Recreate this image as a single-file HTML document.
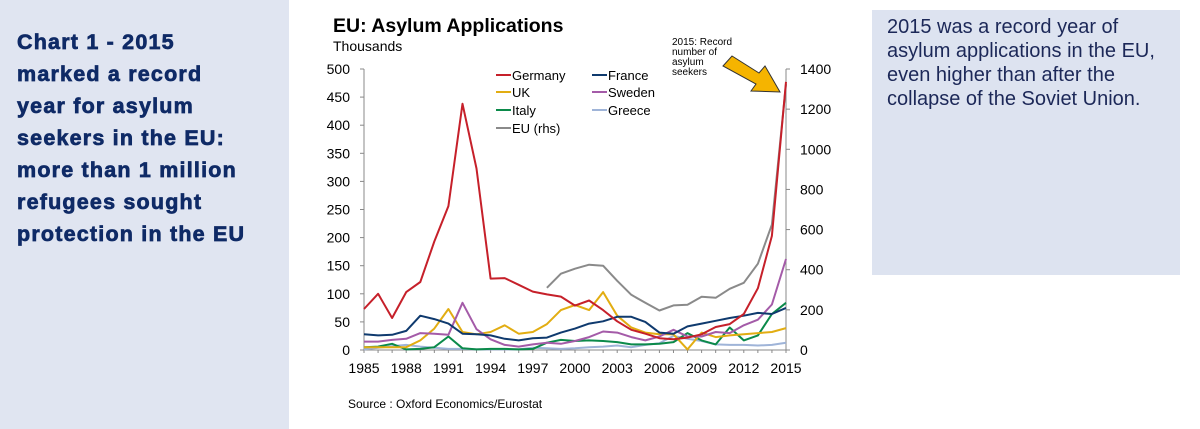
<!DOCTYPE html>
<html><head><meta charset="utf-8"><style>
body{margin:0;width:1200px;height:429px;background:#fff;position:relative;overflow:hidden;font-family:"Liberation Sans",Arial,sans-serif}
#left{position:absolute;left:0;top:0;width:289px;height:429px;background:#e0e5f1}
#left div{position:absolute;left:17px;top:26px;font-weight:bold;font-size:21.5px;line-height:32px;color:#0f2a66;letter-spacing:1.2px;-webkit-text-stroke:0.7px #0f2a66;white-space:nowrap}
#box{position:absolute;left:872px;top:10px;width:308px;height:265px;background:#dde3f0}
#box div{position:absolute;left:15px;top:5px;font-size:20px;line-height:24px;color:#1c2858;white-space:nowrap}
</style></head><body>
<div id="left"><div>Chart 1 - 2015<br>marked a record<br>year for asylum<br>seekers in the EU:<br>more than 1 million<br>refugees sought<br>protection in the EU</div></div>
<div id="box"><div>2015 was a record year of<br>asylum applications in the EU,<br>even higher than after the<br>collapse of the Soviet Union.</div></div>
<svg id="chart" width="1200" height="429" style="position:absolute;left:0;top:0"></svg>
<script>
const years=[];for(let y=1985;y<=2015;y++)years.push(y);
const germany=[73,100,57,103,121,193,256,438,323,127,128,116,104,99,95,79,88,71,51,36,29,21,19,22,28,41,46,64,110,203,477];
const france=[28,26,27,34,61,55,47,29,28,26,20,17,21,22,31,38,47,51,59,59,50,31,29,42,47,52,57,61,66,64,75];
const uk=[5,5,5,5,17,38,73,32,28,32,44,29,32,46,71,80,71,103,61,40,31,28,28,1,31,23,26,28,30,32,39];
const sweden=[15,15,18,20,30,29,27,84,37,19,9,6,10,13,11,16,23,33,31,23,17,24,36,24,24,32,30,44,54,81,162];
const italy=[5,6,11,1,2,5,24,3,1,2,2,1,2,13,18,16,17,16,14,10,10,11,14,30,17,10,40,17,26,64,84];
const greece=[1,4,7,9,6,4,2,2,1,1,1,1,4,3,2,3,5,6,8,5,9,12,25,20,16,10,9,9,8,9,13];
const euYears=[1998,1999,2000,2001,2002,2003,2004,2005,2006,2007,2008,2009,2010,2011,2012,2013,2014,2015];
const eu=[310,380,405,425,420,345,275,235,197,222,225,265,260,305,335,430,625,1325];
const leftTicks=[0,50,100,150,200,250,300,350,400,450,500];
const rightTicks=[0,200,400,600,800,1000,1200,1400];
const xTicks=[1985,1988,1991,1994,1997,2000,2003,2006,2009,2012,2015];
const X0=364,X1=786,Y0=350,Y1=69;
const x=v=>X0+(v-1985)/30*(X1-X0);
const yl=v=>Y0-v/500*(Y0-Y1);
const yr=v=>Y0-v/1400*(Y0-Y1);
const svg=document.getElementById('chart');const NS='http://www.w3.org/2000/svg';
function mk(t,a,txt){const e=document.createElementNS(NS,t);for(const k in a)e.setAttribute(k,a[k]);if(txt!=null)e.textContent=txt;svg.appendChild(e);return e;}
let e;
e=mk('text',{x:333,y:32,'font-size':19.5,'font-weight':'bold',fill:'#000'},'EU: Asylum Applications');


e=mk('text',{x:333,y:51,'font-size':14,fill:'#000'},'Thousands');


e=mk('line',{x1:X0,y1:Y1,x2:X0,y2:Y0,stroke:'#888'});


e=mk('line',{x1:X1,y1:Y1,x2:X1,y2:Y0,stroke:'#888'});


e=mk('line',{x1:X0,y1:Y0,x2:X1,y2:Y0,stroke:'#888'});


leftTicks.forEach(t=>{mk('line',{x1:X0-4,y1:yl(t),x2:X0,y2:yl(t),stroke:'#888'});
e=mk('text',{x:X0-14,y:yl(t)+5,'font-size':14,'text-anchor':'end',fill:'#000'},t);

});
rightTicks.forEach(t=>{mk('line',{x1:X1,y1:yr(t),x2:X1+4,y2:yr(t),stroke:'#888'});
e=mk('text',{x:X1+14,y:yr(t)+5,'font-size':14,fill:'#000'},t);

});
years.forEach(y=>mk('line',{x1:x(y),y1:Y0,x2:x(y),y2:Y0+3,stroke:'#888'}));
xTicks.forEach(t=>{e=mk('text',{x:x(t),y:Y0+23,'font-size':14,'text-anchor':'middle',fill:'#000'},t);

});
function line(xs,vals,sc,col,name){const p=vals.map((v,i)=>x(xs[i]).toFixed(1)+','+sc(v).toFixed(1)).join(' ');
const el=mk('polyline',{points:p,fill:'none',stroke:col,'stroke-width':2,'stroke-linejoin':'round'});

}
line(years,greece,yl,'#9fb4d8','greece-line');
line(years,italy,yl,'#0b8a4a','italy-line');
line(years,uk,yl,'#e2ad12','uk-line');
line(years,sweden,yl,'#a45ba8','sweden-line');
line(years,france,yl,'#0f3a6e','france-line');
line(euYears,eu,yr,'#8a8a8a','eu-line');
line(years,germany,yl,'#c6202a','germany-line');
const leg=[['Germany','#c6202a',496,75],['UK','#e2ad12',496,92],['Italy','#0b8a4a',496,110],['EU (rhs)','#8a8a8a',496,128],['France','#0f3a6e',592,75],['Sweden','#a45ba8',592,92],['Greece','#9fb4d8',592,110]];
leg.forEach(l=>{mk('line',{x1:l[2],y1:l[3],x2:l[2]+15,y2:l[3],stroke:l[1],'stroke-width':2});
e=mk('text',{x:l[2]+16,y:l[3]+5,'font-size':13,fill:'#000'},l[0]);

});
e=mk('text',{x:672,y:45,'font-size':10,fill:'#000'});


['2015: Record','number  of','asylum','seekers'].forEach((s,i)=>{const t=document.createElementNS(NS,'tspan');t.setAttribute('x',672);t.setAttribute('dy',i?10:0);t.textContent=s;e.appendChild(t);});
e=mk('polygon',{points:'723,66 732,56 759,73 765,66 780,92 751,91 756,84',fill:'#f5b400',stroke:'#333','stroke-width':1});


e=mk('text',{x:348,y:408,'font-size':12,fill:'#000'},'Source : Oxford Economics/Eurostat');


</script>
</body></html>
